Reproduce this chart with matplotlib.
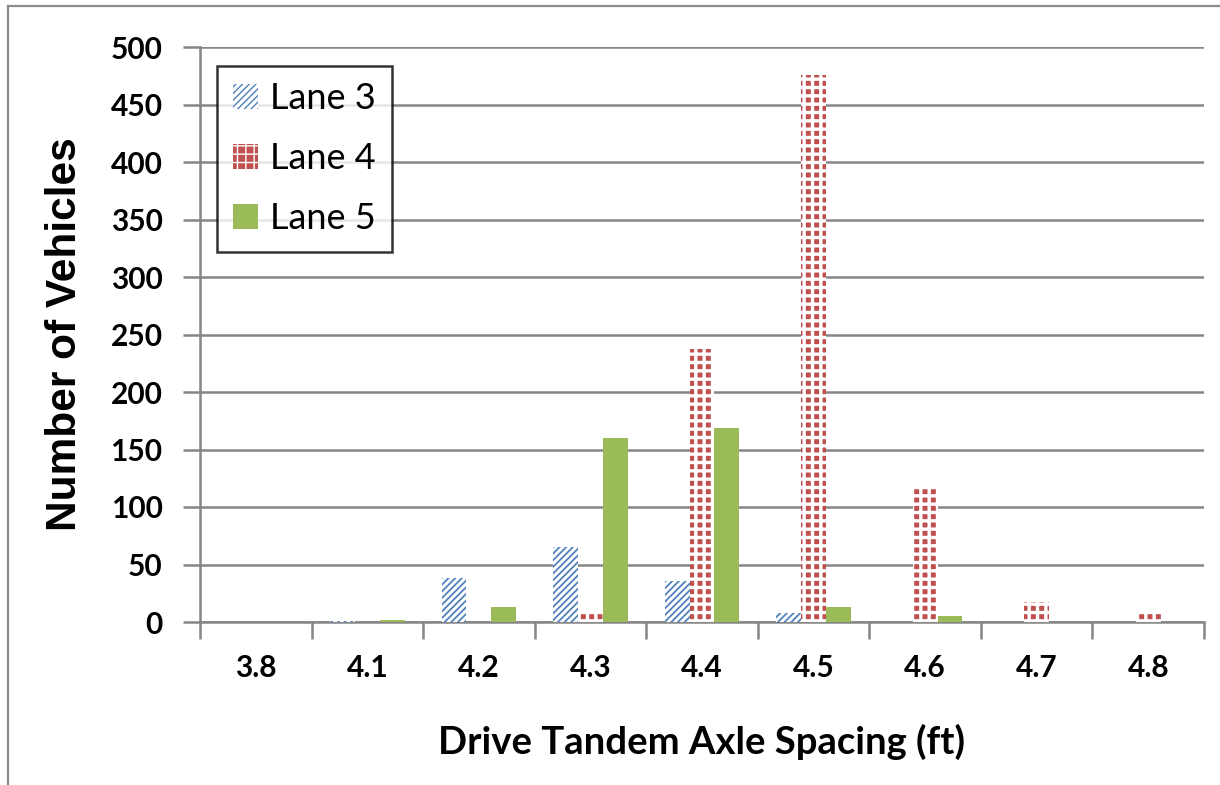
import matplotlib
matplotlib.use("Agg")
import matplotlib.pyplot as plt
import numpy as np
from matplotlib.lines import Line2D
from matplotlib.font_manager import FontProperties

categories = ['3.8', '4.1', '4.2', '4.3', '4.4', '4.5', '4.6', '4.7', '4.8']
lane3 = [0, 1, 38, 65, 36, 8, 0, 0, 0]
lane4 = [0, 0, 0, 8, 237, 476, 117, 17, 7]
lane5 = [0, 2, 13, 160, 169, 13, 5, 0, 0]
series_names = ['Lane 3', 'Lane 4', 'Lane 5']
y_ticks = [0, 50, 100, 150, 200, 250, 300, 350, 400, 450, 500]

BLUE = '#4F81BD'
RED = '#C0504D'
GREEN = '#9BBB59'
GRID = '#868686'

W, H = 1220, 785
fig = plt.figure(figsize=(W / 100, H / 100), dpi=100)
ax = fig.add_axes([200 / W, 1 - 622 / H, 1004 / W, 575 / H])

x = np.arange(len(categories))
bw = 1 / 4.5

with plt.rc_context({'hatch.linewidth': 1.3}):
    ax.bar(x - bw, lane3, bw, facecolor='white', edgecolor=BLUE, hatch='/////',
           linewidth=0, label=series_names[0], zorder=3)
with plt.rc_context({'hatch.linewidth': 2.4}):
    ax.bar(x, lane4, bw, facecolor=RED, edgecolor='white', hatch='++',
           linewidth=0, label=series_names[1], zorder=3)
ax.bar(x + bw, lane5, bw, color=GREEN, linewidth=0,
       label=series_names[2], zorder=3)

ax.set_xlim(-0.5, len(categories) - 0.5)
ax.set_ylim(0, 500)
ax.set_yticks(y_ticks)
ax.yaxis.grid(True, color=GRID, linewidth=1.8, zorder=0)
ax.set_axisbelow(True)

# category boundaries carry the tick marks, centres carry the labels
ax.set_xticks(np.arange(-0.5, len(categories)), labels=[''] * (len(categories) + 1))
ax.set_xticks(x, labels=categories, minor=True)
ax.tick_params(axis='x', which='major', length=12, width=1.8, color=GRID)
ax.tick_params(axis='x', which='minor', length=0, pad=23)
ax.tick_params(axis='y', length=12, width=1.8, color=GRID, pad=15)

tick_font = FontProperties(family=['Lato', 'DejaVu Sans'], weight='bold', size=21.5)
for lab in ax.get_yticklabels() + ax.get_xticklabels(minor=True):
    lab.set_fontproperties(tick_font)

for s in ['top', 'right']:
    ax.spines[s].set_visible(False)
for s in ['left', 'bottom']:
    ax.spines[s].set_color(GRID)
    ax.spines[s].set_linewidth(1.8)

ax.set_xlabel('Drive Tandem Axle Spacing (ft)', family=['Lato', 'DejaVu Sans'],
              weight='bold', size=27.5, labelpad=30)
ax.set_ylabel('Number of Vehicles', family=['Liberation Sans', 'DejaVu Sans'],
              weight='bold', size=30.5, labelpad=18)

leg = ax.legend(loc='upper left', bbox_to_anchor=(17 / 1004, 1 - 19 / 575),
                prop=dict(family=['Lato', 'DejaVu Sans'], size=26),
                frameon=True, fancybox=False, edgecolor='black',
                borderpad=0.45, labelspacing=0.75, handlelength=0.68,
                handleheight=0.68, handletextpad=0.33, borderaxespad=0)
leg.get_frame().set_linewidth(1.8)
leg.set_zorder(5)

# outer chart frame
fig.add_artist(Line2D([8 / W, 8 / W], [0, 1 - 6 / H], color='#8C8C8C', linewidth=1.6))
fig.add_artist(Line2D([8 / W, 1], [1 - 6 / H, 1 - 6 / H], color='#8C8C8C', linewidth=1.6))

fig.savefig('out.png', dpi=100, facecolor='white')
